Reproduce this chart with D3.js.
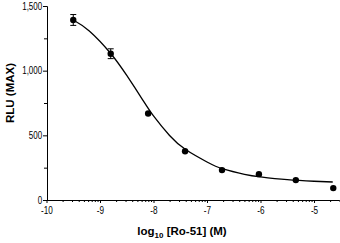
<!DOCTYPE html>
<html>
<head>
<meta charset="utf-8">
<script src="https://cdn.jsdelivr.net/npm/d3@7"></script>
<style>
  body { margin: 0; background: #fff; }
  .tick text { font-family: "Liberation Sans", Arial, sans-serif; font-size: 10px; fill: #000; }
  .axisTitle { font-family: "Liberation Sans", Arial, sans-serif; font-weight: bold; font-size: 11.5px; }
</style>
</head>
<body>
<div id="chart"></div>
<script>
// measured points (log10 M vs RLU)
var logConc = [-9.5, -8.8, -8.1, -7.41, -6.72, -6.03, -5.34, -4.64];
var rlu = [1392, 1131, 669, 377, 231, 200, 154, 92];
var rluErr = [42, 38, 0, 0, 0, 0, 0, 0];

// fitted curve
var fitX = [-9.5, -9.2, -8.8, -8.5, -8.2, -8.0, -7.7, -7.4, -7.0, -6.7, -6.3, -6.0, -5.5, -5.0, -4.65];
var fitY = [1392, 1307, 1133, 963, 773, 650, 499, 390, 294, 240, 199, 179, 157, 145, 139];

var yTicks = [0, 500, 1000, 1500];
var yMinor = [250, 750, 1250];
var xTicks = [-10, -9, -8, -7, -6, -5];

var svgWidth = 340;
var svgHeight = 243;

var svg = d3.select("#chart")
  .append("svg")
  .attr("width", svgWidth)
  .attr("height", svgHeight);

var x = d3.scaleLinear()
  .domain([-10, -4.52])
  .range([46.5, 339.7]);

var y = d3.scaleLinear()
  .domain([0, 1500])
  .range([200, 6]);

// minor log ticks inside each decade
var xMinor = [];
xTicks.forEach(function(d) {
  for (var k = 2; k <= 9; k++) {
    var v = d + Math.log10(k);
    if (v <= -4.52) xMinor.push(v);
  }
});

// x axis
var xAxis = svg.append("g")
  .attr("transform", "translate(0,200)")
  .call(d3.axisBottom(x).tickValues(xTicks).tickSize(3).tickPadding(4)
    .tickFormat(function(d) { return String(d); }));
xAxis.select(".domain").attr("d", "M" + x(-10) + ",0.5H" + x(-4.52));
xAxis.selectAll(".tick text").attr("transform", "scale(0.82,1)");

svg.append("g")
  .attr("transform", "translate(0,200)")
  .call(d3.axisBottom(x).tickValues(xMinor).tickSize(2).tickFormat(""))
  .select(".domain").remove();

// y axis
var yAxis = svg.append("g")
  .attr("transform", "translate(47,0)")
  .call(d3.axisLeft(y).tickValues(yTicks).tickSize(4).tickPadding(2).tickFormat(d3.format(",")));
yAxis.selectAll(".tick text").attr("transform", "scale(0.8,1)");

svg.append("g")
  .attr("transform", "translate(47,0)")
  .call(d3.axisLeft(y).tickValues(yMinor).tickSize(3).tickFormat(""))
  .select(".domain").remove();

// fitted curve
var line = d3.line()
  .x(function(d, i) { return x(fitX[i]); })
  .y(function(d) { return y(d); })
  .curve(d3.curveNatural);

svg.append("path")
  .datum(fitY)
  .attr("d", line)
  .attr("fill", "none")
  .attr("stroke", "#000")
  .attr("stroke-width", 1.3);

// error bars
var bars = svg.append("g").attr("stroke", "#000").attr("stroke-width", 1);
logConc.forEach(function(c, i) {
  if (!rluErr[i]) return;
  var cx = x(c), top = y(rlu[i] + rluErr[i]), bot = y(rlu[i] - rluErr[i]);
  bars.append("line").attr("x1", cx).attr("x2", cx).attr("y1", top).attr("y2", bot);
  bars.append("line").attr("x1", cx - 3).attr("x2", cx + 3).attr("y1", top).attr("y2", top);
  bars.append("line").attr("x1", cx - 3).attr("x2", cx + 3).attr("y1", bot).attr("y2", bot);
});

// points
svg.selectAll("circle.pt")
  .data(rlu)
  .enter()
  .append("circle")
  .attr("class", "pt")
  .attr("cx", function(d, i) { return x(logConc[i]); })
  .attr("cy", function(d) { return y(d); })
  .attr("r", 3.2)
  .attr("fill", "#000");

// axis titles
var xt = svg.append("text")
  .attr("class", "axisTitle")
  .attr("x", 182)
  .attr("y", 235)
  .attr("text-anchor", "middle");
xt.append("tspan").text("log");
xt.append("tspan").attr("font-size", "8px").attr("dy", 3).text("10");
xt.append("tspan").attr("dy", -3).text(" [Ro-51] (M)");

svg.append("text")
  .attr("class", "axisTitle")
  .attr("transform", "translate(14,93) rotate(-90)")
  .attr("text-anchor", "middle")
  .text("RLU (MAX)");
</script>
</body>
</html>
